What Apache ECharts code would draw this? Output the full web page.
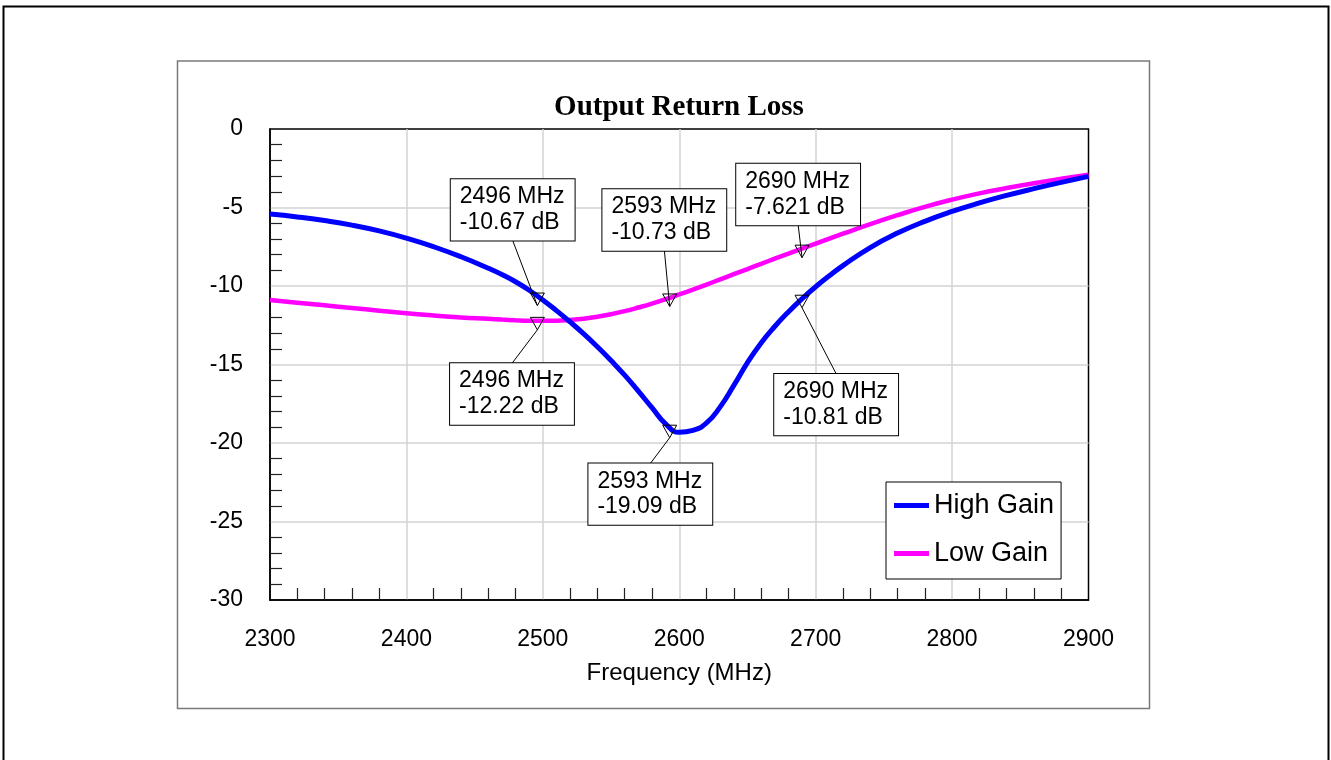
<!DOCTYPE html>
<html>
<head>
<meta charset="utf-8">
<script src="https://cdn.jsdelivr.net/npm/echarts@6/dist/echarts.min.js"></script>
<style>
html,body{margin:0;padding:0;background:#fff;}
#chart{width:1331px;height:760px;}
</style>
</head>
<body>
<div id="chart"></div>
<script>
// ---- data ----
const freqs = [2300,2320,2340,2360,2380,2400,2420,2440,2460,2470,2480,2490,2500,2510,2520,2530,2540,2550,2560,2570,2580,2590,2600,2610,2620,2630,2640,2650,2660,2670,2680,2690,2700,2710,2720,2740,2760,2780,2800,2820,2840,2860,2880,2900];
const highGain = [-5.42,-5.6,-5.83,-6.12,-6.49,-6.95,-7.5,-8.14,-8.87,-9.27,-9.73,-10.27,-10.89,-11.57,-12.29,-13.05,-13.87,-14.75,-15.68,-16.7,-17.75,-18.78,-19.32,-19.2,-18.72,-17.7,-16.33,-14.88,-13.63,-12.58,-11.65,-10.81,-10.05,-9.35,-8.7,-7.55,-6.63,-5.88,-5.25,-4.71,-4.23,-3.8,-3.4,-3.02];
const lowGain = [-10.89,-11.06,-11.23,-11.4,-11.57,-11.74,-11.88,-12.0,-12.09,-12.14,-12.18,-12.21,-12.22,-12.21,-12.16,-12.08,-11.96,-11.8,-11.6,-11.37,-11.12,-10.84,-10.54,-10.23,-9.91,-9.58,-9.25,-8.92,-8.59,-8.26,-7.94,-7.62,-7.3,-6.98,-6.67,-6.06,-5.49,-4.96,-4.5,-4.1,-3.76,-3.45,-3.17,-2.91];
const seriesNames = ['High Gain','Low Gain'];
const xTicks = [2300,2400,2500,2600,2700,2800,2900];
const yTicks = [0,-5,-10,-15,-20,-25,-30];
// marker annotations
const annotFreq = [2496,2496,2593,2593,2690,2690];
const annotValue = [-10.67,-12.22,-10.73,-19.09,-7.621,-10.81];
const annotText = ['2496 MHz\n-10.67 dB','2496 MHz\n-12.22 dB','2593 MHz\n-10.73 dB','2593 MHz\n-19.09 dB','2690 MHz\n-7.621 dB','2690 MHz\n-10.81 dB'];
// layout: label box top-left offset from marker point (px)
const annotOffsets = [[-86.6,-117.3],[-87.3,42.4],[-67.3,-108.2],[-81.3,34.7],[-65.8,-84.8],[-27.8,75.2]];

const FONT = "Arial, 'Liberation Sans', sans-serif";
const BOX_W = 124, BOX_H = 61.5;

const chart = echarts.init(document.getElementById('chart'), null, {renderer:'canvas'});
const option = {
  animation: false,
  backgroundColor: '#fff',
  graphic: [
    {type:'rect', shape:{x:3.5,y:6.5,width:1325,height:820}, style:{fill:'none',stroke:'#000',lineWidth:2}, z:0},
    {type:'rect', shape:{x:177.5,y:61,width:972,height:647.5}, style:{fill:'none',stroke:'#7a7a7a',lineWidth:1.5}, z:0},
    {type:'text', x:679, y:108, style:{text:'Output Return Loss', font:"bold 29px 'Times New Roman', 'Liberation Serif', serif", fill:'#000', align:'center', verticalAlign:'middle'}, z:5}
  ],
  grid: {left:270, right:242.5, top:129, bottom:160, show:true, borderColor:'#000', borderWidth:1.5, backgroundColor:'transparent'},
  legend: {
    data: seriesNames, orient:'vertical', left:886, top:482,
    itemWidth:35, itemHeight:5, icon:'rect', itemGap:21,
    padding:[10,7,12,8], borderColor:'#000', borderWidth:1, backgroundColor:'#fff',
    textStyle:{fontSize:27, fontFamily:FONT, color:'#000'}
  },
  xAxis: {
    type:'value', min:xTicks[0], max:xTicks[xTicks.length-1], interval:100,
    name:'Frequency (MHz)', nameLocation:'middle', nameGap:61,
    nameTextStyle:{fontSize:24, fontFamily:FONT, color:'#000'},
    axisLine:{show:true, onZero:false, lineStyle:{color:'#000', width:1.5}},
    axisTick:{show:true, inside:true, length:12, lineStyle:{color:'#000', opacity:0}},
    minorTick:{show:true, splitNumber:5, length:12, lineStyle:{color:'#222', width:1.2}},
    splitLine:{show:true, showMinLine:false, showMaxLine:false, lineStyle:{color:'#d3d3d3', width:1.5}},
    axisLabel:{fontSize:23, fontFamily:FONT, color:'#000', margin:28, formatter:function(v){return String(v);}}
  },
  yAxis: {
    type:'value', min:yTicks[yTicks.length-1], max:yTicks[0], interval:5,
    axisLine:{show:true, onZero:false, lineStyle:{color:'#000', width:1.5}},
    axisTick:{show:true, inside:true, length:12, lineStyle:{color:'#000', opacity:0}},
    minorTick:{show:true, splitNumber:5, length:12, lineStyle:{color:'#222', width:1.2}},
    splitLine:{show:true, showMinLine:false, showMaxLine:false, lineStyle:{color:'#d3d3d3', width:1.5}},
    axisLabel:{fontSize:23, fontFamily:FONT, color:'#000', margin:27}
  },
  series: [
    {name:seriesNames[1], type:'line', data:freqs.map((f,i)=>[f,lowGain[i]]), smooth:0.5, showSymbol:false, color:'#ff00ff', lineStyle:{width:4.5, color:'#ff00ff'}, z:2},
    {name:seriesNames[0], type:'line', data:freqs.map((f,i)=>[f,highGain[i]]), smooth:0.5, showSymbol:false, color:'#0000ff', lineStyle:{width:5, color:'#0000ff'}, z:3},
    {
      type:'custom', coordinateSystem:'cartesian2d', clip:false, z:6, silent:true,
      data: annotFreq.map((f,i)=>[f, annotValue[i], i]),
      renderItem: function(params, api){
        const i = api.value(2);
        const p = api.coord([api.value(0), api.value(1)]);
        const off = annotOffsets[i];
        const bx = p[0]+off[0], by = p[1]+off[1];
        const above = off[1] < 0;
        const ly = above ? by + BOX_H : by;
        return {type:'group', children:[
          {type:'line', shape:{x1:bx+BOX_W/2, y1:ly, x2:p[0], y2:p[1]+9}, style:{stroke:'#000', lineWidth:1}},
          {type:'polygon', shape:{points:[[p[0]-7,p[1]-3.5],[p[0]+7,p[1]-3.5],[p[0],p[1]+9]]}, style:{fill:null, stroke:'#000', lineWidth:1}},
          {type:'text', x:bx, y:by, style:{
            text:annotText[i], fontSize:23, fontFamily:FONT, fill:'#000',
            backgroundColor:'#fff', borderColor:'#000', borderWidth:1,
            padding:[5,10,5,9], lineHeight:25.7, align:'left', verticalAlign:'top'
          }}
        ]};
      }
    }
  ]
};
chart.setOption(option);
</script>
</body>
</html>
